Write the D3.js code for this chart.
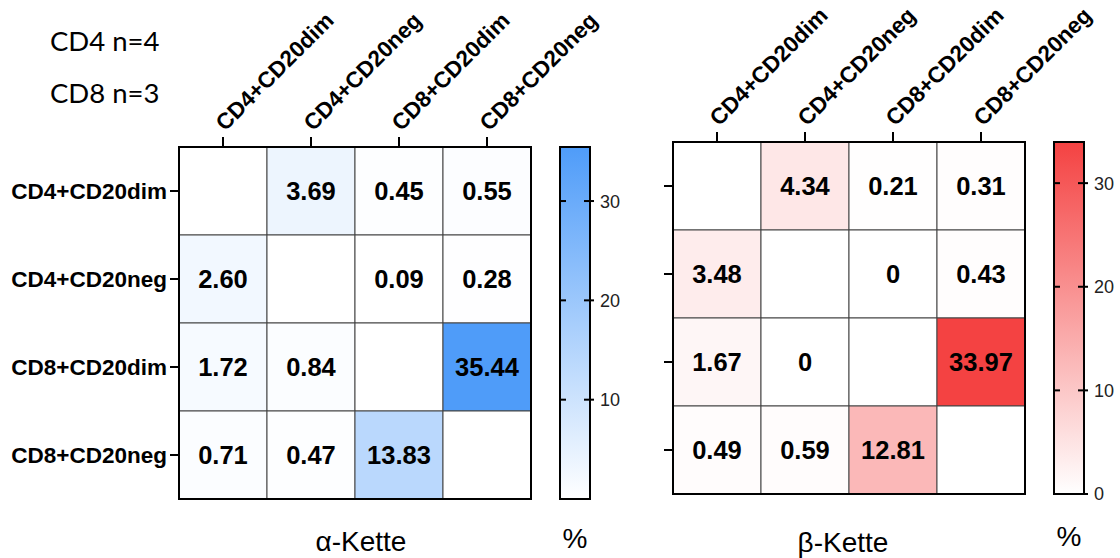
<!DOCTYPE html>
<html>
<head>
<meta charset="utf-8">
<script src="https://cdn.jsdelivr.net/npm/d3@7"></script>
<style>
  body { margin: 0; background: #fff; }
  svg { display: block; }
  text { font-family: "Liberation Sans", Arial, sans-serif; }
</style>
</head>
<body>
<svg width="1120" height="558"></svg>
<script>
// populations (rows = columns, same order)
const populations = ["CD4+CD20dim", "CD4+CD20neg", "CD8+CD20dim", "CD8+CD20neg"];

// alpha chain overlap, % (null = diagonal)
const alphaValues = [
  [null, 3.69, 0.45, 0.55],
  [2.60, null, 0.09, 0.28],
  [1.72, 0.84, null, 35.44],
  [0.71, 0.47, 13.83, null],
];

// beta chain overlap, %
const betaValues = [
  [null, 4.34, 0.21, 0.31],
  [3.48, null, 0, 0.43],
  [1.67, 0, null, 33.97],
  [0.49, 0.59, 12.81, null],
];

const alphaTicks = [10, 20, 30];
const betaTicks = [0, 10, 20, 30];
const notes = ["CD4 n=4", "CD8 n=3"];

const svg = d3.select("svg");

svg.selectAll(".note")
  .data(notes)
  .enter().append("text")
  .attr("x", 50)
  .attr("y", (d, i) => 51 + i * 52)
  .style("font-family", "Lato, 'Open Sans', sans-serif")
  .style("font-size", "27.5px")
  .attr("fill", "#000")
  .text(d => d);

function heatmap(opts) {
  const g = svg.append("g");
  const size = 352;
  const x = d3.scaleBand().domain(populations).range([opts.x0, opts.x0 + size]);
  const y = d3.scaleBand().domain(populations).range([opts.y0, opts.y0 + size]);
  const max = d3.max(opts.values.flat());
  const color = d3.scaleLinear().domain([0, max]).range(["#ffffff", opts.color]);

  const cells = [];
  opts.values.forEach((row, r) => row.forEach((v, c) => cells.push({ r, c, v })));

  g.selectAll("rect.cell")
    .data(cells)
    .enter().append("rect")
    .attr("class", "cell")
    .attr("x", d => x(populations[d.c]))
    .attr("y", d => y(populations[d.r]))
    .attr("width", x.bandwidth())
    .attr("height", y.bandwidth())
    .attr("fill", d => d.v == null ? "#fff" : color(d.v))
    .attr("stroke", "#444")
    .attr("stroke-width", 1);

  g.selectAll("text.val")
    .data(cells.filter(d => d.v != null))
    .enter().append("text")
    .attr("x", d => x(populations[d.c]) + x.bandwidth() / 2)
    .attr("y", d => y(populations[d.r]) + y.bandwidth() / 2)
    .attr("text-anchor", "middle")
    .attr("dy", "0.36em")
    .style("font-size", "25.5px")
    .style("font-weight", "bold")
    .attr("fill", "#000")
    .text(d => d.v === 0 ? "0" : d.v.toFixed(2));

  // frame
  g.append("rect")
    .attr("x", opts.x0).attr("y", opts.y0)
    .attr("width", size).attr("height", size)
    .attr("fill", "none").attr("stroke", "#000").attr("stroke-width", 2);

  // top ticks + rotated labels
  populations.forEach(p => {
    const cx = x(p) + x.bandwidth() / 2;
    g.append("line")
      .attr("x1", cx).attr("x2", cx)
      .attr("y1", opts.y0 - 10).attr("y2", opts.y0)
      .attr("stroke", "#000").attr("stroke-width", 2);
    g.append("text")
      .attr("transform", `translate(${cx + 2},${opts.y0 - 15}) rotate(-45)`)
      .style("font-size", "22.5px")
      .style("font-weight", "bold")
      .attr("fill", "#000")
      .text(p);
  });

  // left ticks (+ labels)
  populations.forEach(p => {
    const cy = y(p) + y.bandwidth() / 2;
    g.append("line")
      .attr("x1", opts.x0 - 9).attr("x2", opts.x0)
      .attr("y1", cy).attr("y2", cy)
      .attr("stroke", "#000").attr("stroke-width", 2);
    if (opts.rowLabels) {
      g.append("text")
        .attr("x", opts.x0 - 12)
        .attr("y", cy)
        .attr("dy", "0.36em")
        .attr("text-anchor", "end")
        .style("font-size", "22.5px")
        .style("font-weight", "bold")
        .attr("fill", "#000")
        .text(p);
    }
  });

  g.append("text")
    .attr("x", opts.x0 + size / 2 + opts.titleShift)
    .attr("y", opts.titleY)
    .attr("text-anchor", "middle")
    .style("font-size", "28px")
    .attr("fill", "#000")
    .text(opts.title);

  // colour bar
  const bx = opts.barX, bw = 30;
  const by = d3.scaleLinear().domain([0, max]).range([opts.y0 + size, opts.y0]);
  const gid = "grad-" + opts.id;
  const grad = svg.append("defs").append("linearGradient")
    .attr("id", gid).attr("x1", 0).attr("y1", 1).attr("x2", 0).attr("y2", 0);
  grad.append("stop").attr("offset", 0).attr("stop-color", color(0));
  grad.append("stop").attr("offset", 1).attr("stop-color", color(max));

  g.append("rect")
    .attr("x", bx).attr("y", opts.y0)
    .attr("width", bw).attr("height", size)
    .attr("fill", `url(#${gid})`)
    .attr("stroke", "#000").attr("stroke-width", 2);

  opts.ticks.forEach(t => {
    const ty = by(t);
    g.append("line")
      .attr("x1", bx).attr("x2", bx + 6).attr("y1", ty).attr("y2", ty)
      .attr("stroke", "#000").attr("stroke-width", 2);
    g.append("line")
      .attr("x1", bx + bw - 6).attr("x2", bx + bw + 4).attr("y1", ty).attr("y2", ty)
      .attr("stroke", "#000").attr("stroke-width", 2);
    g.append("text")
      .attr("x", bx + bw + 10)
      .attr("y", ty)
      .attr("dy", "0.36em")
      .style("font-size", "18px")
      .attr("fill", "#222")
      .text(t);
  });

  g.append("text")
    .attr("x", bx + bw / 2)
    .attr("y", opts.pctY)
    .attr("text-anchor", "middle")
    .style("font-size", "28px")
    .attr("fill", "#000")
    .text("%");
}

heatmap({
  id: "a", values: alphaValues, x0: 179, y0: 147, color: "#4f9cf9",
  barX: 560, ticks: alphaTicks, rowLabels: true,
  title: "α-Kette", titleShift: 6, titleY: 551, pctY: 548,
});

heatmap({
  id: "b", values: betaValues, x0: 673, y0: 142, color: "#f44242",
  barX: 1054, ticks: betaTicks, rowLabels: false,
  title: "β-Kette", titleShift: -6, titleY: 552, pctY: 546,
});
</script>
</body>
</html>
